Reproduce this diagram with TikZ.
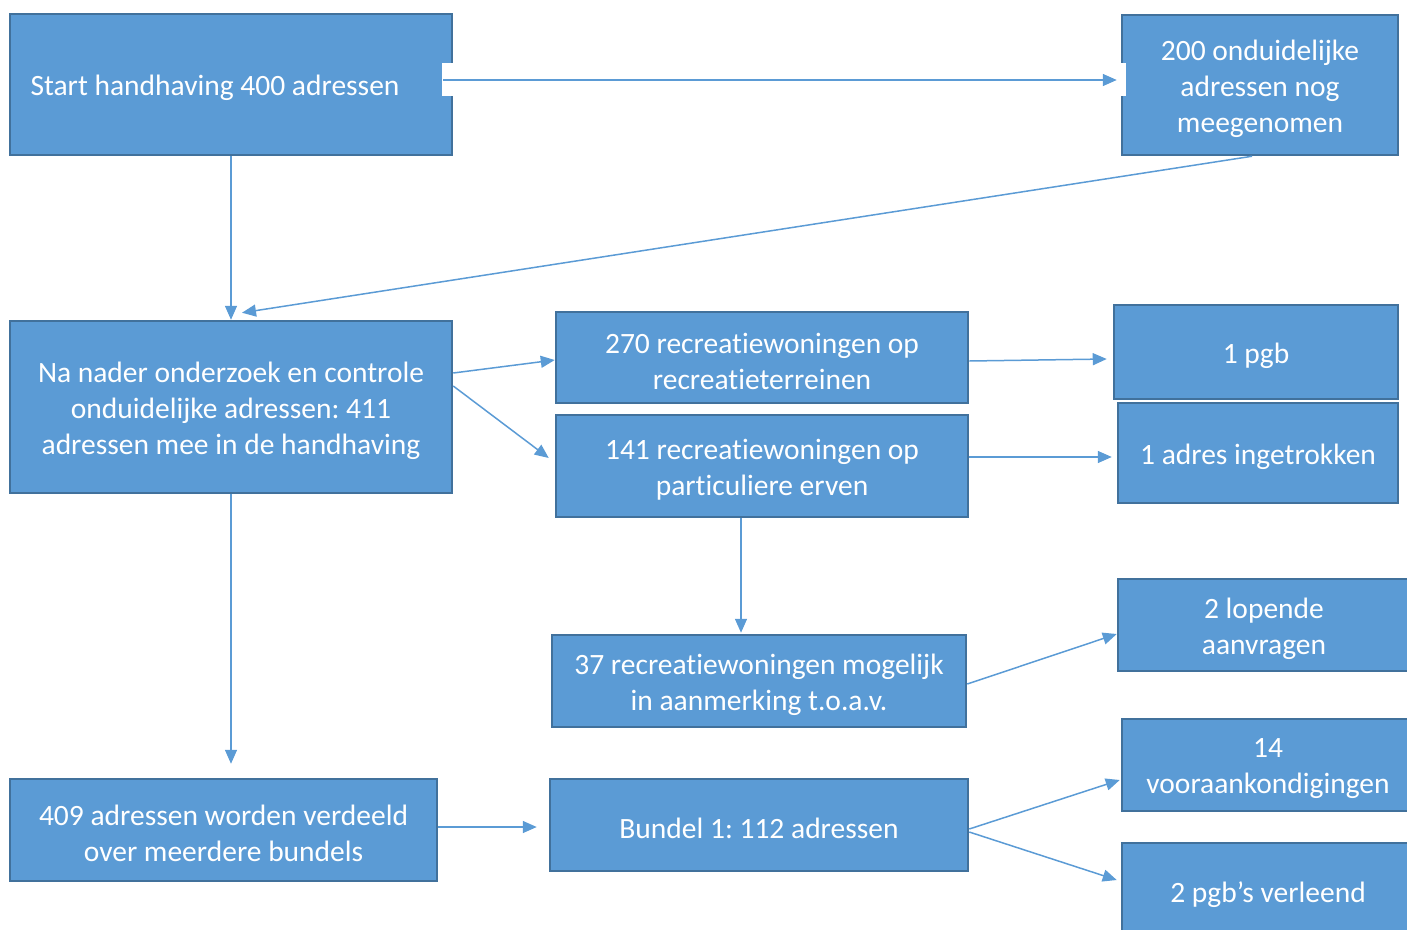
\documentclass[tikz,border=0pt]{standalone}
\usepackage{fontspec}
\setmainfont{Carlito}[Ligatures=NoCommon]
\usetikzlibrary{arrows.meta,calc}
\definecolor{boxfill}{HTML}{5B9BD5}
\definecolor{boxline}{HTML}{41719C}
\frenchspacing
\begin{document}
\begin{tikzpicture}[x=1pt,y=-1pt,
  box/.style={draw=boxline, fill=boxfill, line width=2.5pt, inner sep=0pt},
  boxtext/.style={text=white, align=center, inner sep=0pt, font=\fontsize{29.5}{36}\selectfont, yshift=-3.5pt},
  conn/.style={draw=boxfill, line width=1.5pt, -{Triangle[length=14pt,width=12pt]}}]
\useasboundingbox (0,0) rectangle (1407,929);

\node[box, minimum width=442pt, minimum height=141pt, label={[boxtext, xshift=-16pt]center:{Start handhaving 400 adressen}}] (start) at (231,84.5) {};
\node[box, minimum width=276pt, minimum height=140pt, label={[boxtext]center:{200 onduidelijke\\adressen nog\\meegenomen}}] (n200) at (1260,85) {};
\node[box, minimum width=442pt, minimum height=172pt, label={[boxtext]center:{Na nader onderzoek en controle\\onduidelijke adressen: 411\\adressen mee in de handhaving}}] (na) at (231,407) {};
\node[box, minimum width=412pt, minimum height=91pt, label={[boxtext]center:{270 recreatiewoningen op\\recreatieterreinen}}] (n270) at (762,357.5) {};
\node[box, minimum width=412pt, minimum height=102pt, label={[boxtext]center:{141 recreatiewoningen op\\particuliere erven}}] (n141) at (762,466) {};
\node[box, minimum width=284pt, minimum height=94pt, label={[boxtext]center:{1 pgb}}] (pgb1) at (1256,352) {};
\node[box, minimum width=280pt, minimum height=100pt, label={[boxtext]center:{1 adres ingetrokken}}] (adres) at (1258,453) {};
\node[box, minimum width=414pt, minimum height=92pt, label={[boxtext]center:{37 recreatiewoningen mogelijk\\in aanmerking t.o.a.v.}}] (n37) at (759,681) {};
\node[box, minimum width=292pt, minimum height=92pt, label={[boxtext]center:{2 lopende\\aanvragen}}] (lopende) at (1264,625) {};
\node[box, minimum width=427pt, minimum height=102pt, label={[boxtext]center:{409 adressen worden verdeeld\\over meerdere bundels}}] (n409) at (223.5,830) {};
\node[box, minimum width=418pt, minimum height=92pt, label={[boxtext]center:{Bundel 1: 112 adressen}}] (bundel) at (759,825) {};
\node[box, minimum width=292pt, minimum height=92pt, label={[boxtext]center:{14\\vooraankondigingen}}] (n14) at (1268,765) {};
\node[box, minimum width=292pt, minimum height=96pt, label={[boxtext]center:{2 pgb’s verleend}}] (pgb2) at (1268,891) {};

\fill[white] (442,63) rectangle (453.5,96);
\fill[white] (1117,63) rectangle (1125.5,96);

\draw[conn] ([xshift=-10pt,yshift=4.5pt]start.east) -- ([xshift=-4pt,yshift=5pt]n200.west);
\draw[conn] (start.south) -- (na.north);
\draw[conn] ([xshift=-8pt]n200.south) -- ([xshift=11pt,yshift=7pt]na.north);
\draw[conn] ([yshift=34pt]na.east) -- ([yshift=-2.5pt]n270.west);
\draw[conn] ([yshift=21pt]na.east) -- ([xshift=-6pt,yshift=8pt]n141.west);
\draw[conn] ([yshift=-3.5pt]n270.east) -- ([xshift=-6pt,yshift=-7pt]pgb1.west);
\draw[conn] ([yshift=9pt]n141.east) -- ([xshift=-5pt,yshift=-4pt]adres.west);
\draw[conn] ([xshift=-21pt]n141.south) -- ([xshift=-18pt,yshift=1pt]n37.north);
\draw[conn] (na.south) -- ([xshift=7.5pt,yshift=14pt]n409.north);
\draw[conn] ([yshift=-3pt]n37.east) -- ([yshift=-9pt]lopende.west);
\draw[conn] ([yshift=3pt]n409.east) -- ([xshift=-12pt,yshift=-2pt]bundel.west);
\draw[conn] ([yshift=-4pt]bundel.east) -- ([xshift=-1pt,yshift=-15pt]n14.west);
\draw[conn] ([yshift=-7pt]bundel.east) -- ([xshift=-4pt,yshift=11pt]pgb2.west);
\end{tikzpicture}
\end{document}
